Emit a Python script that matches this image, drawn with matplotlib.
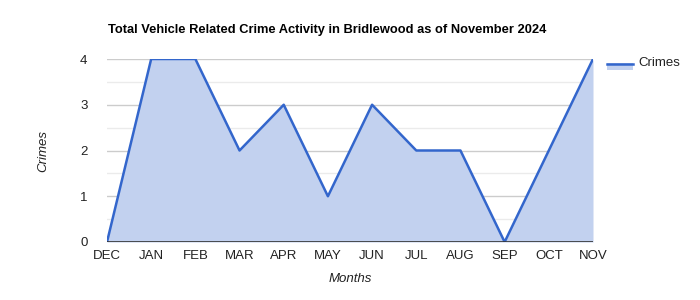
import matplotlib
matplotlib.use('Agg')
from matplotlib import pyplot as plt
from matplotlib.lines import Line2D
from matplotlib.patches import Rectangle

months = ['DEC', 'JAN', 'FEB', 'MAR', 'APR', 'MAY', 'JUN', 'JUL', 'AUG', 'SEP', 'OCT', 'NOV']
crimes = [0, 4, 4, 2, 3, 1, 3, 2, 2, 0, 2, 4]

plt.rcParams['font.family'] = ['Liberation Sans', 'DejaVu Sans']

line_color = '#3366cc'
fill_color = '#c2d1ef'

fig = plt.figure(figsize=(7, 3), dpi=100)
ax = fig.add_axes([107 / 700, 1 - 242 / 300, 486 / 700, 183 / 300])

x = list(range(len(months)))
ax.fill_between(x, crimes, 0, color=fill_color, lw=0, zorder=2)
ax.plot(x, crimes, color=line_color, lw=1.8, zorder=3)

ax.set_xlim(0, len(months) - 1)
ax.set_ylim(0, 4)
ax.set_xticks(x)
ax.set_xticklabels(months)
ax.set_yticks([0, 1, 2, 3, 4])
ax.set_yticks([0.5, 1.5, 2.5, 3.5], minor=True)
ax.tick_params(axis='both', which='both', length=0, labelsize=9.5, colors='#222222')
ax.tick_params(axis='x', pad=6)
ax.tick_params(axis='y', pad=14)
ax.grid(axis='y', which='major', color='#cccccc', lw=1, zorder=1)
ax.grid(axis='y', which='minor', color='#ebebeb', lw=1, zorder=1)
for s in ax.spines.values():
    s.set_visible(False)
ax.axhline(0, color='#333333', lw=1.2, zorder=4)

ax.set_xlabel('Months', fontsize=9.5, style='italic', color='#222222', labelpad=8)
ax.set_ylabel('Crimes', fontsize=9.5, style='italic', color='#222222', labelpad=22)

fig.text(108 / 700, 1 - 30 / 300, 'Total Vehicle Related Crime Activity in Bridlewood as of November 2024',
         fontsize=9.3, fontweight='bold', color='#000000', va='center', ha='left')

# Legend
fig.patches.append(Rectangle((607 / 700, 1 - 70 / 300), 26 / 700, 7 / 300,
                             transform=fig.transFigure, color=fill_color, lw=0))
fig.lines.append(Line2D([607 / 700, 633 / 700], [1 - 64 / 300, 1 - 64 / 300],
                        transform=fig.transFigure, color=line_color, lw=1.8))
fig.text(638 / 700, 1 - 63 / 300, 'Crimes', fontsize=9.5, color='#222222', va='center', ha='left')

fig.savefig('out.png', dpi=100)
